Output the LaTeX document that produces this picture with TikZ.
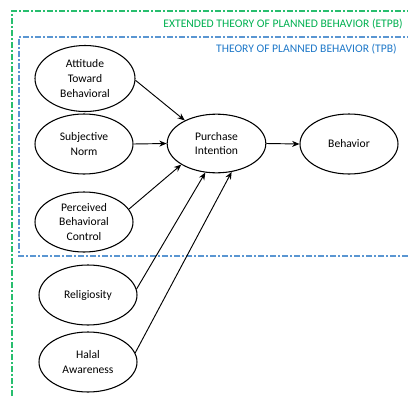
\documentclass[tikz,border=0pt]{standalone}
\usepackage{fontspec}
\setmainfont{Carlito}
\usetikzlibrary{arrows.meta,shapes.geometric}
\definecolor{etpbgreen}{RGB}{0,176,80}
\definecolor{etpbline}{RGB}{40,190,110}
\definecolor{tpbblue}{RGB}{30,120,200}
\definecolor{tpbline}{RGB}{90,150,210}
\tikzset{
  construct/.style={ellipse, draw, line width=0.8pt, minimum width=73.5pt, minimum height=45pt,
    inner sep=0pt, align=center, font=\fontsize{8.7}{10.9}\selectfont},
  link/.style={line width=0.7pt, -{Stealth[length=5.5pt,width=4.5pt]}},
  boxline/.style={line width=0.8pt, dash pattern=on 4.5pt off 1.8pt on 0.9pt off 1.8pt},
  boxlabel/.style={anchor=east, inner sep=0pt, font=\fontsize{8.7}{10.9}\selectfont}
}
\begin{document}
\begin{tikzpicture}[x=0.75pt,y=-0.75pt]
\useasboundingbox (0,0) rectangle (408,397);
\clip (0,0) rectangle (408,397);
% frames
\draw[boxline, etpbline] (12,420) -- (12,11) -- (420,11);
\draw[boxline, tpbline] (420,256) -- (19,256) -- (19,37) -- (420,37);
\node[boxlabel, text=etpbgreen] (etpb) at (403,24) {EXTENDED THEORY OF PLANNED BEHAVIOR (ETPB)};
\node[boxlabel, text=tpbblue] (tpb) at (397,49) {THEORY OF PLANNED BEHAVIOR (TPB)};
% constructs
\node[construct, minimum height=49.5pt, minimum width=75pt] (att) at (85,78.5) {Attitude\\Toward\\Behavioral};
\node[construct] (sn) at (84,144) {Subjective\\Norm};
\node[construct] (pbc) at (84,222) {Perceived\\Behavioral\\Control};
\node[construct] (rel) at (88,295) {Religiosity};
\node[construct] (hal) at (88,362) {Halal\\Awareness};
\node[construct, minimum width=74pt, minimum height=44pt] (pi) at (216.5,143.5) {Purchase\\Intention};
\node[construct] (beh) at (349,144) {Behavior};
% links
\draw[link] (att.-2) -- (pi.144);
\draw[link] (sn.east) -- (pi.west);
\draw[link] (pbc.16) -- (pi.211);
\draw[link] (rel.7) -- (pi.249);
\draw[link] (hal.11) -- (pi.298);
\draw[link] (pi.east) -- (beh.west);
\end{tikzpicture}
\end{document}
